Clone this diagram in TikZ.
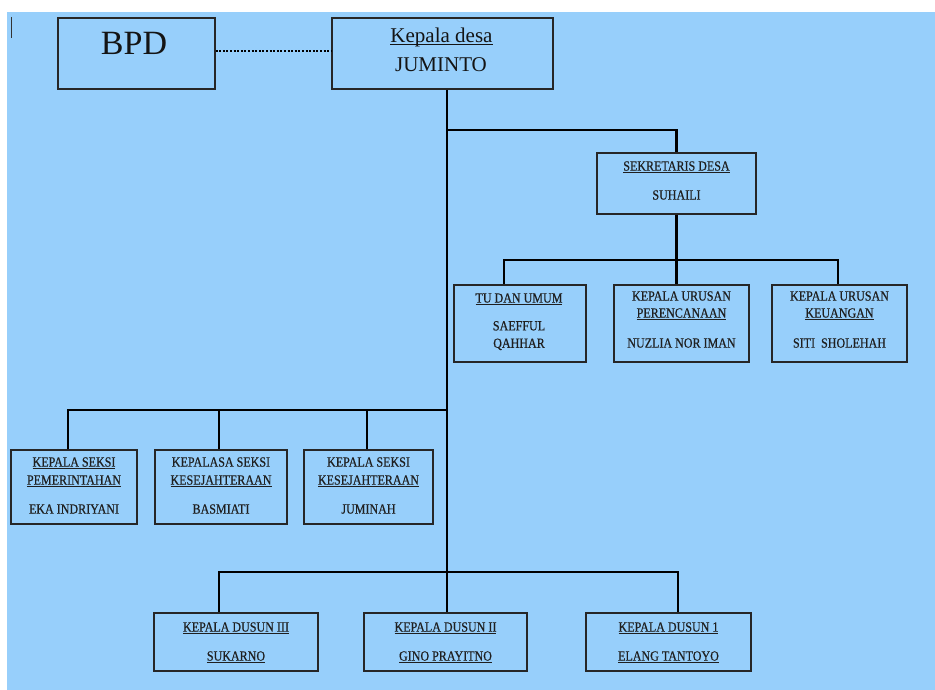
\documentclass[tikz,border=0pt]{standalone}
\usepackage{fontspec}
\setmainfont{Liberation Serif}
\newfontfamily\boxfont[FakeStretch=0.86,FakeBold=0.5]{Liberation Serif}
\definecolor{bgblue}{RGB}{151,207,251}
\newcommand{\ultext}[1]{\leavevmode\setbox0=\hbox{#1}\rlap{\rule[-2.6pt]{\wd0}{0.9pt}}\box0}
\newcommand{\orgbox}[5]{\node[box, minimum width={#4-#2}, minimum height={#5-#3}] (#1) at ({(#2+#4)/2},{(#3+#5)/2}) {};}
\newcommand{\boxline}[4]{\node[txt, anchor=base] (#1) at (#2,#3) {#4};}
\begin{document}
\begin{tikzpicture}[x=1pt,y=-1pt,
  box/.style={draw=black!85, line width=1.3pt, rectangle, inner sep=0pt},
  txt/.style={font=\boxfont\fontsize{14}{17}\selectfont, text=black!88, inner sep=0pt},
  conn/.style={line width=2.6pt, black},
  dots/.style={line width=2.4pt, dash pattern=on 2pt off 1.6pt, black}]
\useasboundingbox (0,0) rectangle (935,690);
\fill[white] (0,0) rectangle (935,690);
\fill[bgblue] (7,12) rectangle (935,690);
% stray mark
\coordinate (m1) at (11,17); \coordinate (m2) at (11,38);
\draw[line width=1pt, black!80] (m1) -- (m2);
% boxes
\orgbox{bpd}{58}{18}{215}{89}
\orgbox{kd}{332}{18}{553}{89}
\orgbox{sek}{597}{153}{756}{214}
\orgbox{tu}{454}{285}{586}{362}
\orgbox{per}{614}{285}{749}{362}
\orgbox{keu}{772}{285}{907}{362}
\orgbox{s1}{11}{450}{137}{524}
\orgbox{s2}{155}{450}{287}{524}
\orgbox{s3}{304}{450}{433}{524}
\orgbox{d3}{154}{613}{318}{671}
\orgbox{d2}{364}{613}{527}{671}
\orgbox{d1}{586}{613}{751}{671}
% texts
\node[txt, anchor=base, font=\fontsize{34}{40}\selectfont, text=black!92] (bpdT) at (134,54.3) {BPD};
\node[txt, anchor=base, font=\fontsize{21}{26}\selectfont, text=black!92] (kdT1) at (441.5,42.3) {\ultext{Kepala desa}};
\node[txt, anchor=base, font=\fontsize{21}{26}\selectfont, text=black!92] (kdT2) at (441,71.7) {JUMINTO};
\boxline{sekT1}{676.5}{170.6}{\ultext{SEKRETARIS DESA}}
\boxline{sekT2}{676.5}{199.6}{SUHAILI}
\boxline{tuT1}{519}{302.6}{\ultext{TU DAN UMUM}}
\boxline{tuT2}{519}{330.4}{SAEFFUL}
\boxline{tuT3}{519}{347.8}{QAHHAR}
\boxline{perT1}{681.5}{300.6}{KEPALA URUSAN}
\boxline{perT2}{681.5}{317.6}{\ultext{PERENCANAAN}}
\boxline{perT3}{681.5}{347.6}{NUZLIA NOR IMAN}
\boxline{keuT1}{839.5}{300.6}{KEPALA URUSAN}
\boxline{keuT2}{839.5}{317.6}{\ultext{KEUANGAN}}
\boxline{keuT3}{839.5}{347.6}{SITI\ \ SHOLEHAH}
\boxline{s1T1}{74}{466.6}{\ultext{KEPALA SEKSI}}
\boxline{s1T2}{74}{484.6}{\ultext{PEMERINTAHAN}}
\boxline{s1T3}{74}{513.6}{EKA INDRIYANI}
\boxline{s2T1}{221}{466.6}{KEPALASA SEKSI}
\boxline{s2T2}{221}{484.6}{\ultext{KESEJAHTERAAN}}
\boxline{s2T3}{221}{513.6}{BASMIATI}
\boxline{s3T1}{368.5}{466.6}{KEPALA SEKSI}
\boxline{s3T2}{368.5}{484.6}{\ultext{KESEJAHTERAAN}}
\boxline{s3T3}{368.5}{513.6}{JUMINAH}
\boxline{d3T1}{236}{631.6}{\ultext{KEPALA DUSUN III}}
\boxline{d3T2}{236}{660.6}{\ultext{SUKARNO}}
\boxline{d2T1}{445.5}{631.6}{\ultext{KEPALA DUSUN II}}
\boxline{d2T2}{445.5}{660.6}{\ultext{GINO PRAYITNO}}
\boxline{d1T1}{668.5}{631.6}{\ultext{KEPALA DUSUN 1}}
\boxline{d1T2}{668.5}{660.6}{\ultext{ELANG TANTOYO}}
% junctions
\coordinate (j1) at (447,130);
\coordinate (j2) at (676.5,260);
\coordinate (j2l) at (504,260);
\coordinate (j2r) at (838,260);
\coordinate (j3) at (447,410);
\coordinate (j3l) at (68,410);
\coordinate (j3m) at (219,410);
\coordinate (j3n) at (367,410);
\coordinate (j4) at (447,572);
\coordinate (j4l) at (219,572);
\coordinate (j4r) at (678,572);
% connectors
\draw[dots] (bpd.east |- 0,51) -- (kd.west |- 0,51);
\draw[conn] (kd.south -| j1) -- (j4);
\draw[conn] (j1) -| (sek.north);
\draw[conn] (sek.south) -- (j2);
\draw[conn] (j2l |- tu.north) -- (j2l) -- (j2r) -- (j2r |- keu.north);
\draw[conn] (j2) -- (j2 |- per.north);
\draw[conn] (j3l |- s1.north) -- (j3l) -- (j3);
\draw[conn] (j3m) -- (j3m |- s2.north);
\draw[conn] (j3n) -- (j3n |- s3.north);
\draw[conn] (j4l |- d3.north) -- (j4l) -- (j4r) -- (j4r |- d1.north);
\draw[conn] (j4) -- (j4 |- d2.north);
\end{tikzpicture}
\end{document}
